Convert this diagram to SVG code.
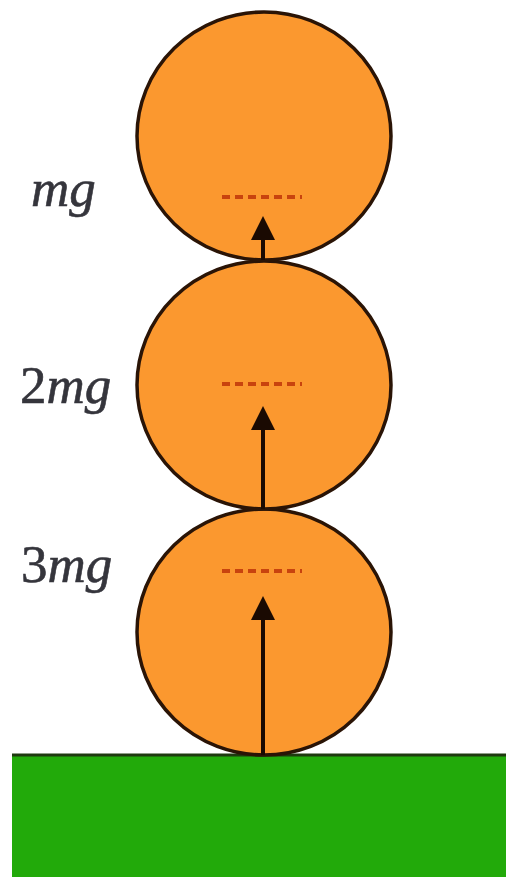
<svg xmlns="http://www.w3.org/2000/svg" width="506" height="877" viewBox="0 0 506 877">
<defs>
<style>
.ball{fill:#fb982f;stroke:#2a1406;stroke-width:3.5}
.dash{stroke:#c8430e;stroke-width:4;stroke-dasharray:8,5;fill:none}
.force{stroke:#1a0a02;stroke-width:4;fill:none}
.lbl{font-family:"Liberation Serif",serif;font-size:53px;fill:#35353c;stroke:#35353c;stroke-width:0.6}
.it{font-style:italic}
</style>
<marker id="ah" markerWidth="6" markerHeight="6" refX="5" refY="3" orient="auto" markerUnits="strokeWidth" viewBox="0 0 6 6">
<path d="M0,0 L6,3 L0,6 Z" fill="#1a0a02"/>
</marker>
</defs>
<rect width="506" height="877" fill="#ffffff"/>
<g id="ground">
<rect x="12" y="755" width="494" height="122" fill="#22aa0a"/>
<line x1="12" y1="755" x2="506" y2="755" stroke="#1e3a10" stroke-width="3"/>
</g>
<g id="ball-bottom">
<ellipse class="ball" cx="264" cy="632" rx="127" ry="123"/>
<line class="dash" x1="222" y1="571" x2="302" y2="571"/>
</g>
<g id="ball-middle">
<ellipse class="ball" cx="264" cy="385" rx="127" ry="124"/>
<line class="dash" x1="222" y1="384" x2="302" y2="384"/>
</g>
<g id="ball-top">
<ellipse class="ball" cx="264" cy="136" rx="127" ry="124"/>
<line class="dash" x1="222" y1="197" x2="302" y2="197"/>
</g>
<g id="connectors">
<line class="force" x1="263" y1="755" x2="263" y2="600" marker-end="url(#ah)"/>
<line class="force" x1="263" y1="509" x2="263" y2="410" marker-end="url(#ah)"/>
<line class="force" x1="263" y1="260" x2="263" y2="220" marker-end="url(#ah)"/>
</g>
<g id="labels">
<text class="lbl it" x="31" y="206">mg</text>
<text class="lbl" x="20" y="403">2<tspan class="it">mg</tspan></text>
<text class="lbl" x="21" y="582">3<tspan class="it">mg</tspan></text>
</g>
</svg>
